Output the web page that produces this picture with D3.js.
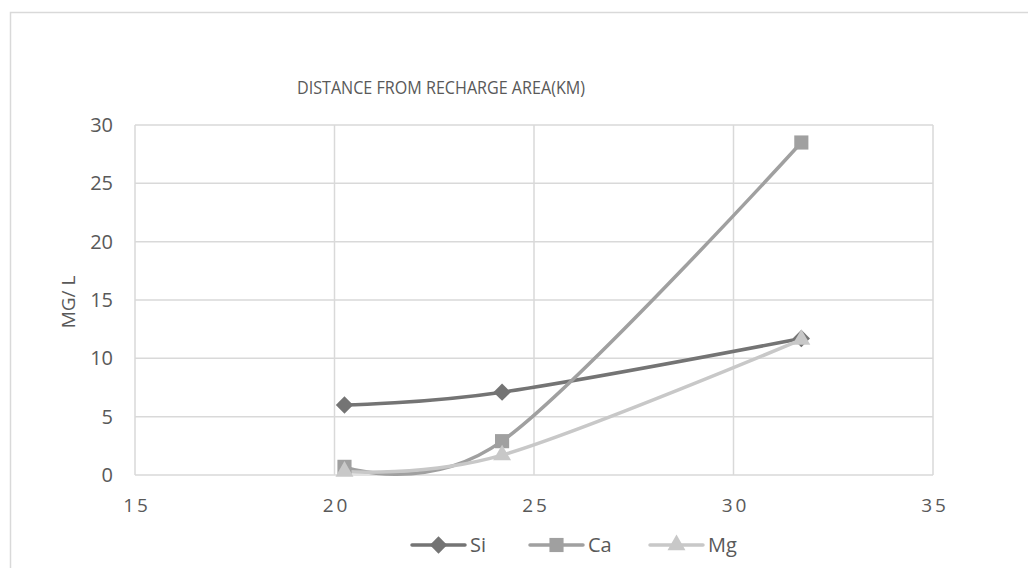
<!DOCTYPE html>
<html>
<head>
<meta charset="utf-8">
<script src="https://cdn.jsdelivr.net/npm/d3@7"></script>
<style>
  html, body { margin: 0; padding: 0; background: #fff; }
  text { font-family: "Open Sans", sans-serif; fill: #595959; }
</style>
</head>
<body>
<div id="chart"></div>
<script>
// distance from recharge area (km)
var distances = [20.25, 24.2, 31.7];
// concentrations (mg/L)
var siValues = [6.0, 7.1, 11.7];
var caValues = [0.7, 2.9, 28.5];
var mgValues = [0.3, 1.7, 11.6];
var seriesNames = ["Si", "Ca", "Mg"];
var xTicks = [15, 20, 25, 30, 35];
var yTicks = [0, 5, 10, 15, 20, 25, 30];

var W = 1028, H = 568;
var margin = { top: 125, right: 95, bottom: 93, left: 135 },
    width = W - margin.left - margin.right,
    height = H - margin.top - margin.bottom;

var colors = { "Si": "#747474", "Ca": "#a0a0a0", "Mg": "#c8c8c8" };

// marker shapes: diamond is a square turned 45 degrees
function marker(name) {
    if (name === "Si") return { d: d3.symbol().type(d3.symbolSquare).size(150)(), rot: 45 };
    if (name === "Ca") return { d: d3.symbol().type(d3.symbolSquare).size(200)(), rot: 0 };
    return { d: d3.symbol().type(d3.symbolTriangle).size(140)(), rot: 0 };
}

var svg = d3.select("#chart").append("svg")
    .attr("width", W)
    .attr("height", H);

// chart area border (runs off the right / bottom of the picture)
svg.append("rect")
    .attr("x", 10.5).attr("y", 12.5)
    .attr("width", W + 20).attr("height", H + 20)
    .attr("fill", "none")
    .attr("stroke", "#d9d9d9")
    .attr("stroke-width", 1.5);

var g = svg.append("g")
    .attr("transform", "translate(" + margin.left + "," + margin.top + ")");

var x = d3.scaleLinear().domain([15, 35]).range([0, width]);
var y = d3.scaleLinear().domain([0, 30]).range([height, 0]);

// grid
g.append("g")
    .selectAll("line")
    .data(yTicks)
    .enter().append("line")
    .attr("x1", 0).attr("x2", width)
    .attr("y1", function (d) { return y(d); })
    .attr("y2", function (d) { return y(d); })
    .attr("stroke", "#d9d9d9")
    .attr("stroke-width", 1.5);

g.append("g")
    .selectAll("line")
    .data(xTicks)
    .enter().append("line")
    .attr("y1", 0).attr("y2", height)
    .attr("x1", function (d) { return x(d); })
    .attr("x2", function (d) { return x(d); })
    .attr("stroke", "#d9d9d9")
    .attr("stroke-width", 1.5);

// axes (labels only)
var xAxis = g.append("g")
    .attr("transform", "translate(0," + height + ")")
    .call(d3.axisBottom(x).tickValues(xTicks).tickSize(0).tickPadding(24));
xAxis.select(".domain").remove();
xAxis.selectAll("text")
    .style("font-size", "19px")
    .style("letter-spacing", "3px")
    .attr("dx", "1.5px");

var yAxis = g.append("g")
    .call(d3.axisLeft(y).tickValues(yTicks).tickSize(0).tickPadding(22));
yAxis.select(".domain").remove();
yAxis.selectAll("text")
    .style("font-size", "20px");

// axis title
svg.append("text")
    .attr("transform", "translate(75,302) rotate(-90)")
    .attr("text-anchor", "middle")
    .style("font-size", "19px")
    .text("MG/ L");

// chart title
svg.append("text")
    .attr("x", 297).attr("y", 94)
    .attr("textLength", 288)
    .attr("lengthAdjust", "spacingAndGlyphs")
    .style("font-size", "19px")
    .text("DISTANCE FROM RECHARGE AREA(KM)");

// series
var series = [
    { name: "Si", values: siValues },
    { name: "Ca", values: caValues },
    { name: "Mg", values: mgValues }
];

// smoothed line, like the spreadsheet's
var line = d3.line()
    .curve(d3.curveCatmullRom.alpha(0))
    .x(function (d) { return x(d.x); })
    .y(function (d) { return y(d.y); });

series.forEach(function (s) {
    var pts = distances.map(function (d, i) { return { x: d, y: s.values[i] }; });
    g.append("path")
        .datum(pts)
        .attr("fill", "none")
        .attr("stroke", colors[s.name])
        .attr("stroke-width", 3.5)
        .attr("stroke-linejoin", "round")
        .attr("d", line);
});

series.forEach(function (s) {
    var pts = distances.map(function (d, i) { return { x: d, y: s.values[i] }; });
    var m = marker(s.name);
    g.selectAll(null)
        .data(pts)
        .enter().append("path")
        .attr("transform", function (d) {
            return "translate(" + x(d.x) + "," + y(d.y) + ") rotate(" + m.rot + ")";
        })
        .attr("d", m.d)
        .attr("fill", colors[s.name]);
});

// legend
var legendX = [412, 530, 650];
var legend = svg.append("g").attr("transform", "translate(0,545)");
seriesNames.forEach(function (name, i) {
    var lx = legendX[i];
    var m = marker(name);
    legend.append("line")
        .attr("x1", lx).attr("x2", lx + 53)
        .attr("y1", 0).attr("y2", 0)
        .attr("stroke", colors[name])
        .attr("stroke-width", 3.5)
        .attr("stroke-linecap", "round");
    legend.append("path")
        .attr("transform", "translate(" + (lx + 26.5) + ",0) rotate(" + m.rot + ")")
        .attr("d", m.d)
        .attr("fill", colors[name]);
    legend.append("text")
        .attr("x", lx + 58).attr("y", 0)
        .attr("dy", "0.35em")
        .style("font-size", "20px")
        .text(name);
});
</script>
</body>
</html>
